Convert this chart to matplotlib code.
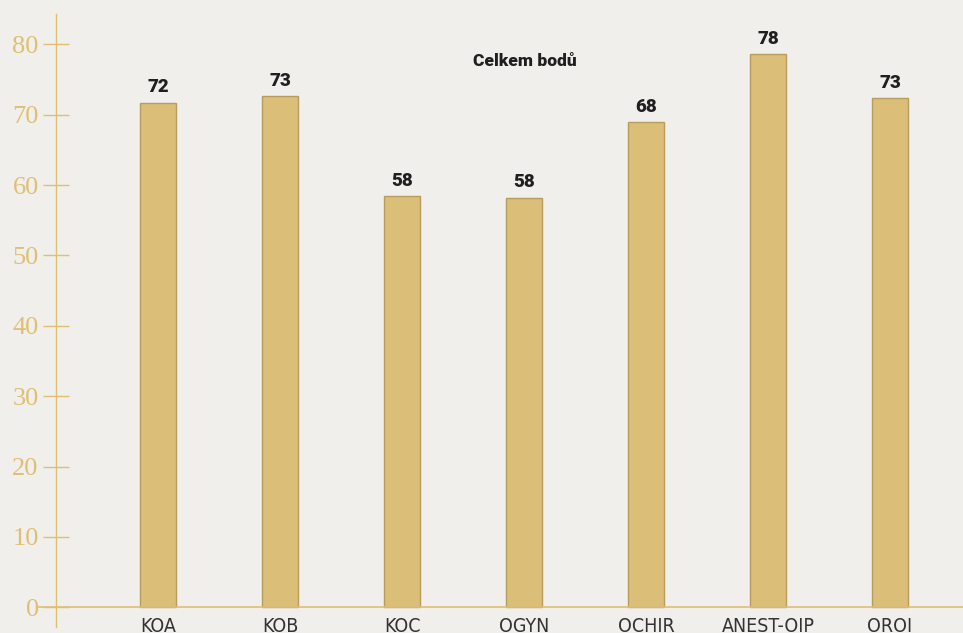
import matplotlib.pyplot as plt
import numpy as np

# data
categories = ["KOA", "KOB", "KOC", "OGYN", "OCHIR", "ANEST-OIP", "OROI"]
heights = [71.7, 72.6, 58.4, 58.2, 68.9, 78.6, 72.4]
shown = ["72", "73", "58", "58", "68", "78", "73"]
yticks = [0, 10, 20, 30, 40, 50, 60, 70, 80]

bg = "#f0efeb"
gold = "#dfbf74"
bar_fill = "#dbbe78"
bar_edge = "#b89b5e"
ink = "#1f1f1f"

fig = plt.figure(figsize=(9.63, 6.33), dpi=100, facecolor=bg)
W, H = 963, 633
ax = fig.add_axes([56 / W, 6 / H, (W - 56) / W, (627 - 14) / H])
ax.set_facecolor(bg)

x = np.arange(len(categories))
ax.bar(x, heights, width=0.295, color=bar_fill, edgecolor=bar_edge, linewidth=1.0, zorder=3)

for xi, h, s in zip(x, heights, shown):
    ax.annotate(s, (xi, h), xytext=(0, 4.5), textcoords="offset points",
                ha="center", va="bottom", fontsize=13.5, fontweight="heavy",
                color=ink, family=["Roboto", "Liberation Sans", "DejaVu Sans"])

ax.set_xlim(-0.836, 6.598)
ax.set_ylim(-2.8, 84.3)

# spines
for side in ["top", "right", "bottom"]:
    ax.spines[side].set_visible(False)
ax.spines["left"].set_color(gold)
ax.spines["left"].set_linewidth(1.0)

# baseline sticks out a little left of the axis
ax.axhline(0, xmin=-18 / 907, xmax=1, color=gold, linewidth=1.2, clip_on=False, zorder=4)

ax.set_yticks(yticks)
ax.set_yticklabels([str(v) for v in yticks], family=["Liberation Serif", "DejaVu Serif"],
                   fontsize=19, color=gold)
ax.tick_params(axis="y", direction="inout", length=19, width=1.0, color=gold, pad=3)

ax.set_xticks(x)
ax.set_xticklabels(categories, family=["DejaVu Sans"], fontstretch="condensed",
                   fontsize=14, color="#333333")
ax.tick_params(axis="x", length=0, pad=-7)

fig.text(525 / W, 1 - 61 / H, "Celkem bodů", ha="center", va="center",
         fontsize=12.5, fontweight="heavy", color=ink,
         family=["Roboto", "Liberation Sans", "DejaVu Sans"])

fig.savefig("out.png", dpi=100, facecolor=bg)
